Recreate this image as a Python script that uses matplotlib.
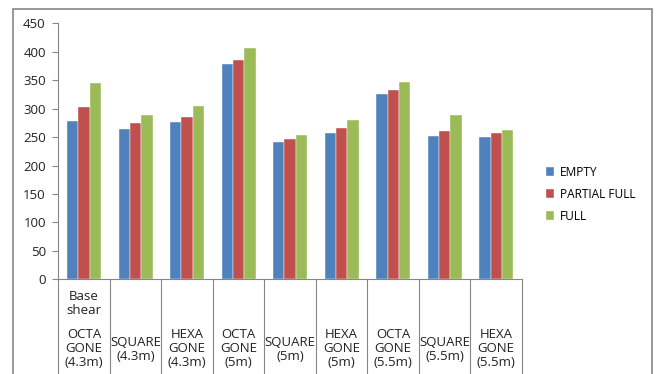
import numpy as np
import matplotlib.pyplot as plt
from matplotlib.patches import Rectangle

plt.rcParams['font.family'] = ['Open Sans', 'DejaVu Sans']

categories = ['OCTA\nGONE\n(4.3m)', 'SQUARE\n(4.3m)', 'HEXA\nGONE\n(4.3m)',
              'OCTA\nGONE\n(5m)', 'SQUARE\n(5m)', 'HEXA\nGONE\n(5m)',
              'OCTA\nGONE\n(5.5m)', 'SQUARE\n(5.5m)', 'HEXA\nGONE\n(5.5m)']
group_label = 'Base\nshear'
series_names = ['EMPTY', 'PARTIAL FULL', 'FULL']
empty = [279, 265, 276, 378, 241, 258, 326, 252, 251]
partial_full = [303, 274, 286, 385, 247, 266, 333, 260, 258]
full = [345, 288, 305, 407, 254, 280, 346, 288, 262]
colors = ['#4F81BD', '#C0504D', '#9BBB59']

W, H = 657, 374
fig = plt.figure(figsize=(W / 100, H / 100), dpi=100)
# outer chart border
fig.patches.append(Rectangle((13 / W, -0.1), (652 - 13) / W, 1.1 - 9 / H,
                             transform=fig.transFigure, fill=False,
                             edgecolor='#868686', linewidth=1.2))

left, right, bottom, top = 58.3, 522, 279.3, 23.3
ax = fig.add_axes([left / W, 1 - bottom / H, (right - left) / W, (bottom - top) / H])

x = np.arange(len(categories))
bw = 0.22
for i, (vals, name) in enumerate(zip([empty, partial_full, full], series_names)):
    ax.bar(x + (i - 1) * bw, vals, bw, color=colors[i], label=name,
           edgecolor='white', linewidth=0.3)

ax.set_xlim(-0.5, len(categories) - 0.5)
ax.set_ylim(0, 450)
ax.set_yticks(np.arange(0, 451, 50))
ax.tick_params(axis='y', direction='out', length=4, color='#868686',
               labelsize=9.5, pad=5, labelcolor='#222222')
ax.set_xticks([])
for s in ['top', 'right']:
    ax.spines[s].set_visible(False)
ax.spines['left'].set_color('#868686')
ax.spines['bottom'].set_color('#868686')

# multi-level category axis
px = 1 / (bottom - top)
trans = ax.get_xaxis_transform()
for b in np.arange(-0.5, len(categories), 1.0):
    ax.plot([b, b], [0, -(380 - bottom) * px], transform=trans,
            color='#868686', linewidth=0.8, clip_on=False)
for xi, lab in zip(x, categories):
    ax.text(xi, -(349 - bottom) * px, lab, transform=trans, ha='center',
            va='center', fontsize=9.5, linespacing=1.1, color='#222222')
ax.text(0, -(303 - bottom) * px, group_label, transform=trans, ha='center',
        va='center', fontsize=9.5, linespacing=1.1, color='#222222')

fig.legend(loc='upper left', bbox_to_anchor=(535 / W, 1 - 155 / H), frameon=False,
           fontsize=8.6, handlelength=0.7, handleheight=0.7, handletextpad=0.5,
           labelspacing=0.75)

fig.savefig('out.png', dpi=100)
